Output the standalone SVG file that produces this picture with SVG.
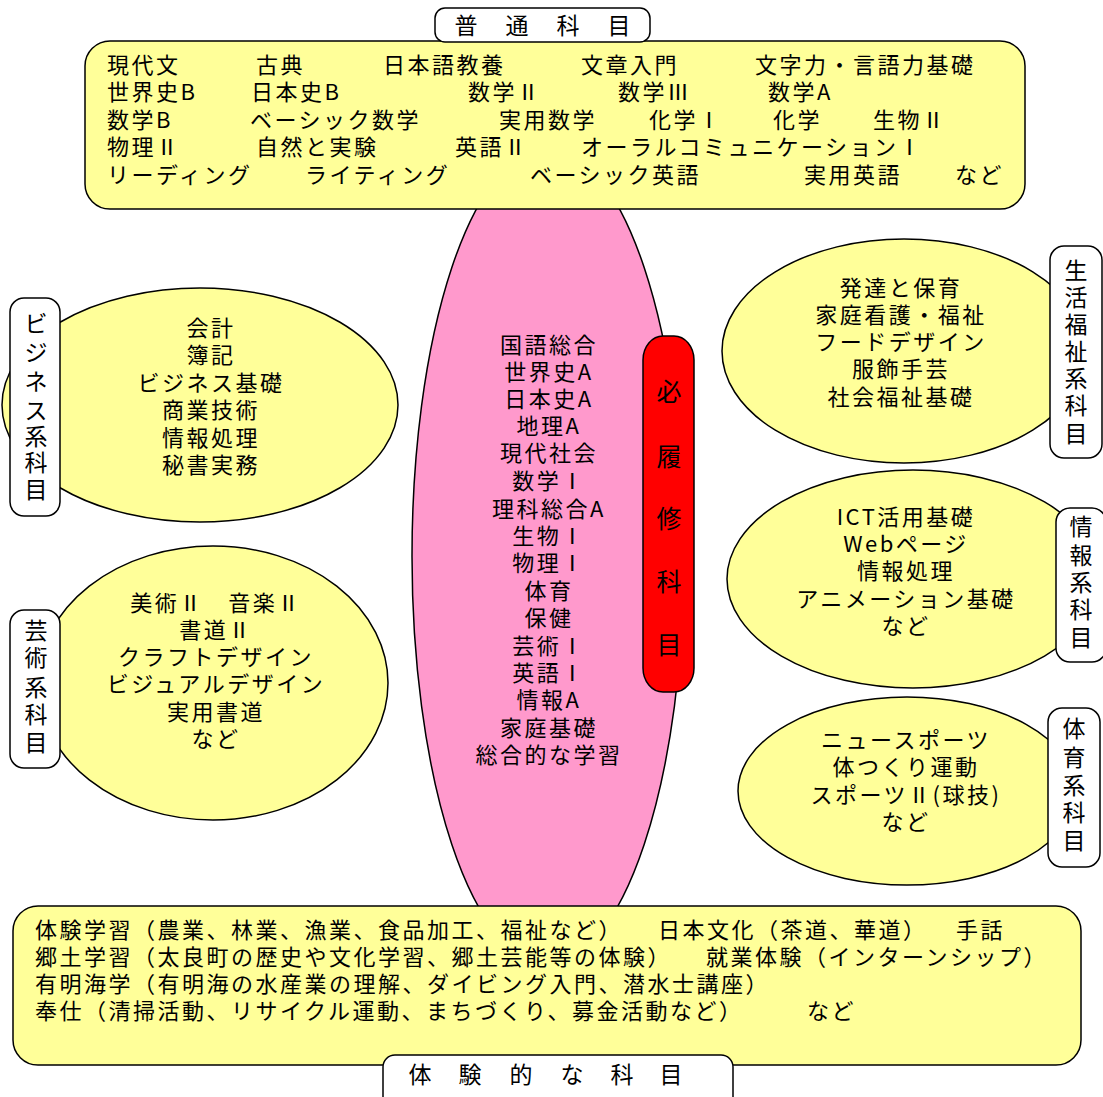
<svg xmlns="http://www.w3.org/2000/svg" width="1103" height="1097" viewBox="0 0 1103 1097">
<style>
text{font-family:"Noto Sans CJK JP","Noto Sans",sans-serif;fill:#000;font-size:22px;letter-spacing:2.5px}
.c{text-anchor:middle}
.shape{stroke:#000;stroke-width:1.5}
.y{fill:#FFFF99}
.w{fill:#FFFFFF}
.lbl{font-size:23px;letter-spacing:0}
.big{font-size:25px;letter-spacing:0}
</style>
<rect width="1103" height="1097" fill="#FFFFFF"/>
<g id="core">
<ellipse class="shape" cx="548" cy="556" rx="136" ry="408" fill="#FF99CC"/>
<text class="c"><tspan x="549" y="353">国語総合</tspan><tspan x="549" y="380">世界史A</tspan><tspan x="549" y="407">日本史A</tspan><tspan x="549" y="434">地理A</tspan><tspan x="549" y="461">現代社会</tspan><tspan x="549" y="489">数学Ⅰ</tspan><tspan x="549" y="517">理科総合A</tspan><tspan x="549" y="544">生物Ⅰ</tspan><tspan x="549" y="571">物理Ⅰ</tspan><tspan x="549" y="599">体育</tspan><tspan x="549" y="626">保健</tspan><tspan x="549" y="654">芸術Ⅰ</tspan><tspan x="549" y="681">英語Ⅰ</tspan><tspan x="549" y="708">情報A</tspan><tspan x="549" y="736">家庭基礎</tspan><tspan x="549" y="763">総合的な学習</tspan></text>
</g>
<g id="required-label">
<rect class="shape" x="643" y="336" width="51" height="356" rx="20" ry="24" fill="#FF0000"/>
<text class="c big"><tspan x="669" y="401">必</tspan><tspan x="669" y="466">履</tspan><tspan x="669" y="528">修</tspan><tspan x="669" y="591">科</tspan><tspan x="669" y="654">目</tspan></text>
</g>
<g id="general">
<rect class="shape y" x="85" y="41" width="940" height="168" rx="25"/>
<text><tspan x="107" y="73">現代文</tspan><tspan x="256" y="73">古典</tspan><tspan x="383" y="73">日本語教養</tspan><tspan x="581" y="73">文章入門</tspan><tspan x="755" y="73">文字力・言語力基礎</tspan></text>
<text><tspan x="107" y="100">世界史B</tspan><tspan x="251" y="100">日本史B</tspan><tspan x="468" y="100">数学Ⅱ</tspan><tspan x="618" y="100">数学Ⅲ</tspan><tspan x="768" y="100">数学A</tspan></text>
<text><tspan x="107" y="128">数学B</tspan><tspan x="250" y="128">ベーシック数学</tspan><tspan x="499" y="128">実用数学</tspan><tspan x="649" y="128">化学Ⅰ</tspan><tspan x="773" y="128">化学</tspan><tspan x="873" y="128">生物Ⅱ</tspan></text>
<text><tspan x="107" y="155">物理Ⅱ</tspan><tspan x="256" y="155">自然と実験</tspan><tspan x="455" y="155">英語Ⅱ</tspan><tspan x="581" y="155">オーラルコミュニケーションⅠ</tspan></text>
<text><tspan x="107" y="183">リーディング</tspan><tspan x="305" y="183">ライティング</tspan><tspan x="530" y="183">ベーシック英語</tspan><tspan x="804" y="183">実用英語</tspan><tspan x="955" y="183">など</tspan></text>
</g>
<g id="general-label">
<rect class="shape w" x="435" y="8" width="215" height="34" rx="10"/>
<text class="c lbl"><tspan x="466" y="34">普</tspan><tspan x="517" y="34">通</tspan><tspan x="568" y="34">科</tspan><tspan x="619" y="34">目</tspan></text>
</g>
<g id="business">
<ellipse class="shape y" cx="200" cy="405" rx="198" ry="117"/>
<text class="c"><tspan x="211" y="336">会計</tspan><tspan x="211" y="363">簿記</tspan><tspan x="211" y="391">ビジネス基礎</tspan><tspan x="211" y="418">商業技術</tspan><tspan x="211" y="446">情報処理</tspan><tspan x="211" y="473">秘書実務</tspan></text>
<rect class="shape w" x="10" y="298" width="50" height="218" rx="14"/>
<text class="c lbl"><tspan x="36" y="332">ビ</tspan><tspan x="36" y="361">ジ</tspan><tspan x="36" y="390">ネ</tspan><tspan x="36" y="419">ス</tspan><tspan x="36" y="445">系</tspan><tspan x="36" y="471">科</tspan><tspan x="36" y="498">目</tspan></text>
</g>
<g id="arts">
<ellipse class="shape y" cx="213" cy="683" rx="175" ry="137"/>
<text class="c"><tspan x="216" y="611">美術Ⅱ　音楽Ⅱ</tspan><tspan x="216" y="638">書道Ⅱ</tspan><tspan x="216" y="665">クラフトデザイン</tspan><tspan x="216" y="692">ビジュアルデザイン</tspan><tspan x="216" y="720">実用書道</tspan><tspan x="216" y="747">など</tspan></text>
<rect class="shape w" x="10" y="610" width="50" height="158" rx="14"/>
<text class="c lbl"><tspan x="36" y="639">芸</tspan><tspan x="36" y="666">術</tspan><tspan x="36" y="696">系</tspan><tspan x="36" y="723">科</tspan><tspan x="36" y="751">目</tspan></text>
</g>
<g id="life">
<ellipse class="shape y" cx="904" cy="351" rx="182" ry="112"/>
<text class="c"><tspan x="901" y="296">発達と保育</tspan><tspan x="901" y="323">家庭看護・福祉</tspan><tspan x="901" y="350">フードデザイン</tspan><tspan x="901" y="377">服飾手芸</tspan><tspan x="901" y="405">社会福祉基礎</tspan></text>
<rect class="shape w" x="1050" y="246" width="52" height="212" rx="14"/>
<text class="c lbl"><tspan x="1076" y="279">生</tspan><tspan x="1076" y="306">活</tspan><tspan x="1076" y="333">福</tspan><tspan x="1076" y="360">祉</tspan><tspan x="1076" y="387">系</tspan><tspan x="1076" y="414">科</tspan><tspan x="1076" y="442">目</tspan></text>
</g>
<g id="info">
<ellipse class="shape y" cx="913" cy="579" rx="186" ry="109"/>
<text class="c"><tspan x="906" y="525">ICT活用基礎</tspan><tspan x="906" y="552">Webページ</tspan><tspan x="906" y="579">情報処理</tspan><tspan x="906" y="607">アニメーション基礎</tspan><tspan x="906" y="634">など</tspan></text>
<rect class="shape w" x="1056" y="508" width="50" height="154" rx="14"/>
<text class="c lbl"><tspan x="1081" y="535">情</tspan><tspan x="1081" y="564">報</tspan><tspan x="1081" y="591">系</tspan><tspan x="1081" y="618">科</tspan><tspan x="1081" y="646">目</tspan></text>
</g>
<g id="pe">
<ellipse class="shape y" cx="907" cy="791" rx="169" ry="94"/>
<text class="c"><tspan x="906" y="748">ニュースポーツ</tspan><tspan x="906" y="775">体つくり運動</tspan><tspan x="906" y="803">スポーツⅡ(球技)</tspan><tspan x="906" y="830">など</tspan></text>
<rect class="shape w" x="1048" y="708" width="52" height="159" rx="14"/>
<text class="c lbl"><tspan x="1074" y="737">体</tspan><tspan x="1074" y="766">育</tspan><tspan x="1074" y="794">系</tspan><tspan x="1074" y="821">科</tspan><tspan x="1074" y="849">目</tspan></text>
</g>
<g id="experience">
<rect class="shape y" x="13" y="906" width="1068" height="159" rx="25"/>
<text><tspan x="35" y="938">体験学習（農業、林業、漁業、食品加工、福祉など）</tspan><tspan x="658" y="938">日本文化（茶道、華道）</tspan><tspan x="956" y="938">手話</tspan></text>
<text><tspan x="35" y="965">郷土学習（太良町の歴史や文化学習、郷土芸能等の体験）</tspan><tspan x="706" y="965">就業体験（インターンシップ）</tspan></text>
<text><tspan x="35" y="992">有明海学（有明海の水産業の理解、ダイビング入門、潜水士講座）</tspan></text>
<text><tspan x="35" y="1019">奉仕（清掃活動、リサイクル運動、まちづくり、募金活動など）</tspan><tspan x="807" y="1019">など</tspan></text>
</g>
<g id="experience-label">
<rect class="shape w" x="383" y="1055" width="350" height="60" rx="12"/>
<text class="c lbl"><tspan x="420" y="1083">体</tspan><tspan x="470" y="1083">験</tspan><tspan x="521" y="1083">的</tspan><tspan x="572" y="1083">な</tspan><tspan x="622" y="1083">科</tspan><tspan x="671" y="1083">目</tspan></text>
</g>
<g id="connectors"></g>
</svg>
